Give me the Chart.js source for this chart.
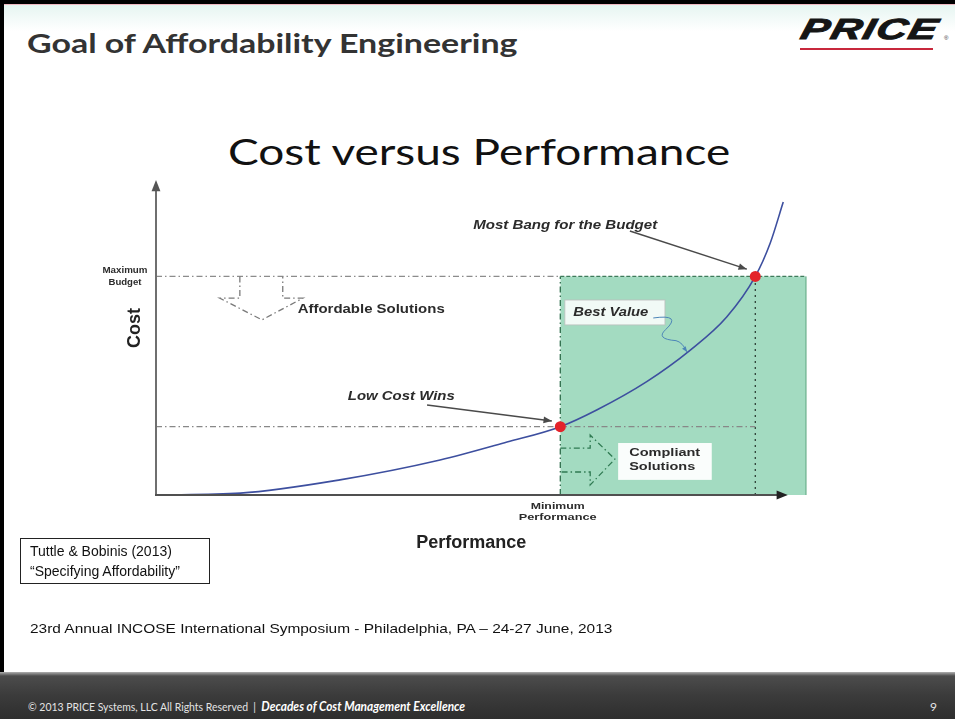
<!DOCTYPE html>
<html>
<head>
<meta charset="utf-8">
<script src="https://cdn.jsdelivr.net/npm/chart.js@4.4.1/dist/chart.umd.min.js"></script>
<style>
html, body { margin: 0; padding: 0; background: #fff; }
#slide { position: relative; width: 955px; height: 719px; overflow: hidden; background: #fff; font-family: "Liberation Sans", Arial, sans-serif; }
#chart { position: absolute; left: 0; top: 0; }
.topbar { position: absolute; left: 0; top: 0; width: 955px; height: 4px; background: #000; }
.topline { position: absolute; left: 0; top: 4px; width: 955px; height: 1px; background: #efb9c2; }
.topfade { position: absolute; left: 0; top: 5px; width: 955px; height: 26px; background: linear-gradient(#e6f5f1, #fff); }
.leftbar { position: absolute; left: 0; top: 0; width: 4px; height: 672px; background: #000; }
.fit { position: absolute; white-space: nowrap; transform-origin: left top; }
#title { left: 27px; top: 29px; font: bold 27px/27px Lato, sans-serif; color: #333; }
#chartTitle { left: 228px; top: 132px; font: 37px/37px Lato, sans-serif; color: #111; }
#logo { left: 805px; top: 15px; font: italic bold 29px/29px "Liberation Sans", Arial, sans-serif; color: #151515; letter-spacing: 1px; -webkit-text-stroke: 0.9px #151515; }
.logoLine { position: absolute; left: 800px; top: 48px; width: 133px; height: 2px; background: #c8283c; }
.reg { position: absolute; left: 944px; top: 35px; font: 6px "Liberation Sans", Arial; color: #333; }
#cite { position: absolute; left: 20px; top: 538px; width: 190px; height: 46px; border: 1px solid #222; box-sizing: border-box; padding: 3px 0 0 9px; font: 14px/19.5px "Liberation Sans", Arial, sans-serif; color: #111; }
#symposium { left: 30px; top: 622px; font: 13.5px/13.5px "Liberation Sans", Arial, sans-serif; color: #111; }
.footer { position: absolute; left: 0; top: 672px; width: 955px; height: 47px; background: linear-gradient(#b0b0b0 0px, #7c7c7c 2px, #4c4c4c 4px, #3b3b3b 50%, #2e2e2e 100%); }
#footText { left: 28px; top: 701px; font: 11px/12px Lato, sans-serif; color: #e4e4e4; }
#footText b { font-style: italic; font-size: 12.5px; color: #fff; }
#pageNo { position: absolute; left: 930px; top: 701px; font: 12px/12px Lato, sans-serif; color: #e4e4e4; }
</style>
</head>
<body>
<div id="slide">
  <div class="topfade"></div>
  <div class="topbar"></div>
  <div class="topline"></div>
  <div class="leftbar"></div>
  <div id="title" class="fit">Goal of Affordability Engineering</div>
  <div id="logo" class="fit">PRICE</div>
  <div class="logoLine"></div>
  <div class="reg">®</div>
  <div id="chartTitle" class="fit">Cost versus Performance</div>
  <canvas id="chart" width="955" height="719"></canvas>
  <div id="cite">Tuttle &amp; Bobinis (2013)<br>“Specifying Affordability”</div>
  <div id="symposium" class="fit">23rd Annual INCOSE International Symposium - Philadelphia, PA – 24-27 June, 2013</div>
  <div class="footer"></div>
  <div id="footText" class="fit">© 2013 PRICE Systems, LLC All Rights Reserved &nbsp;|&nbsp; <b>Decades of Cost Management Excellence</b></div>
  <div id="pageNo">9</div>
</div>
<script>
// 곡선 값 - 성능(x), 비용(y), 0~100 상대 단위
const perfValues = [0, 13, 28.3, 43.7, 54, 62.2, 67.8, 75.5, 82.2, 87.8, 92.2, 94.5, 96.5];
const costValues = [0, 0.6, 4.8, 11.1, 16.8, 21.7, 27, 36, 46, 56.5, 69.4, 80, 93];

// 기준선
const minPerformance = 62.2;
const maxBudget = 69.4;
const lowCostPoint = [62.2, 21.7];
const bestBangPoint = [92.2, 69.4];
const axisMax = [100, 100];
const perfArrowEnd = 97.2;

// 폭 맞추기 (HTML 텍스트)
function fitWidth(id, w, extra) {
    const el = document.getElementById(id);
    const sx = w / el.scrollWidth;
    el.style.transform = (extra || "") + " scaleX(" + sx + ")";
}
fitWidth("title", 490);
fitWidth("chartTitle", 502);
fitWidth("symposium", 582);
fitWidth("footText", 437);
fitWidth("logo", 138, "skewX(-14deg)");

const curveData = perfValues.map((p, i) => ({ x: p, y: costValues[i] }));

const dashDot = [6, 3, 1.5, 3];

// 주석 그리기 플러그인
const annotate = {
    id: "annotate",
    afterDatasetsDraw(chart) {
        const ctx = chart.ctx;
        const xs = chart.scales.x, ys = chart.scales.y;
        const px = v => xs.getPixelForValue(v);
        const py = v => ys.getPixelForValue(v);

        function text(str, x, y, font, color, align, width) {
            ctx.save();
            ctx.font = font;
            ctx.fillStyle = color;
            ctx.textBaseline = "middle";
            ctx.textAlign = align;
            const w = ctx.measureText(str).width;
            const sx = width ? width / w : 1;
            ctx.translate(px(x), py(y));
            ctx.scale(sx, 1);
            ctx.fillText(str, 0, 0);
            ctx.restore();
        }
        function head(x1, y1, x2, y2, size, color) {
            const a = Math.atan2(y2 - y1, x2 - x1);
            ctx.save();
            ctx.fillStyle = color;
            ctx.beginPath();
            ctx.moveTo(x2, y2);
            ctx.lineTo(x2 - size * Math.cos(a - 0.38), y2 - size * Math.sin(a - 0.38));
            ctx.lineTo(x2 - size * Math.cos(a + 0.38), y2 - size * Math.sin(a + 0.38));
            ctx.closePath();
            ctx.fill();
            ctx.restore();
        }
        function arrow(p1, p2, color) {
            ctx.save();
            ctx.strokeStyle = color;
            ctx.lineWidth = 1.5;
            ctx.beginPath();
            ctx.moveTo(px(p1[0]), py(p1[1]));
            ctx.lineTo(px(p2[0]), py(p2[1]));
            ctx.stroke();
            ctx.restore();
            head(px(p1[0]), py(p1[1]), px(p2[0]), py(p2[1]), 9, color);
        }
        function poly(pts, color) {
            ctx.save();
            ctx.beginPath();
            pts.forEach((p, i) => i ? ctx.lineTo(px(p[0]), py(p[1])) : ctx.moveTo(px(p[0]), py(p[1])));
            ctx.setLineDash(dashDot);
            ctx.strokeStyle = color;
            ctx.lineWidth = 1.3;
            ctx.stroke();
            ctx.restore();
        }
        function box(x1, y1, x2, y2, fill, stroke) {
            ctx.save();
            ctx.fillStyle = fill;
            ctx.fillRect(px(x1), py(y1), px(x2) - px(x1), py(y2) - py(y1));
            if (stroke) {
                ctx.strokeStyle = stroke;
                ctx.lineWidth = 1;
                ctx.strokeRect(px(x1), py(y1), px(x2) - px(x1), py(y2) - py(y1));
            }
            ctx.restore();
        }

        // 축
        ctx.save();
        ctx.lineWidth = 2;
        ctx.strokeStyle = "#6f6f6f";
        ctx.beginPath();
        ctx.moveTo(px(0), py(0));
        ctx.lineTo(px(0), py(axisMax[1]) + 6);
        ctx.stroke();
        ctx.strokeStyle = "#505050";
        ctx.beginPath();
        ctx.moveTo(px(0) - 1, py(0));
        ctx.lineTo(px(perfArrowEnd) - 6, py(0));
        ctx.stroke();
        ctx.restore();
        head(px(0), py(0), px(0), py(axisMax[1]), 12, "#555");
        head(px(0), py(0), px(perfArrowEnd), py(0), 12, "#222");

        // 블록 화살표
        poly([[12.9, maxBudget], [12.9, 62.5], [9.8, 62.5], [16.3, 55.6], [22.6, 62.5], [19.5, 62.5], [19.5, maxBudget]], "#7a7a7a");
        poly([[minPerformance, 14.9], [66.8, 14.9], [66.8, 19], [70.6, 11.4], [66.8, 3.2], [66.8, 7.3], [minPerformance, 7.3]], "#2f7a52");

        // 박스
        box(62.9, 61.9, 78.3, 54, "rgba(255,255,255,0.85)", "rgba(190,190,190,0.8)");
        box(71.1, 16.5, 85.5, 4.8, "rgba(255,255,255,0.95)");

        // 설명 화살표
        arrow([72.9, 83.8], [90.9, 71.7], "#4a4a4a");
        arrow([41.7, 28.6], [60.9, 23.5], "#4a4a4a");

        // Best Value 물결선
        ctx.save();
        ctx.strokeStyle = "#4d86b8";
        ctx.lineWidth = 1;
        ctx.beginPath();
        ctx.moveTo(px(76.5), py(56.2));
        ctx.quadraticCurveTo(px(81), py(57.5), px(78.4), py(52.5));
        ctx.quadraticCurveTo(px(76.8), py(49.5), px(80), py(49));
        ctx.quadraticCurveTo(px(81), py(48.5), px(81.7), py(45.4));
        ctx.stroke();
        ctx.restore();
        head(px(81), py(47.5), px(81.7), py(45.4), 6, "#4d86b8");

        // 텍스트
        const dark = "#2b2b2b";
        text("Maximum", -4.77, 71.4, "bold 9px 'Liberation Sans'", dark, "center", 45);
        text("Budget", -4.77, 67.3, "bold 9px 'Liberation Sans'", dark, "center", 33);
        text("Affordable Solutions", 21.8, 58.7, "bold 12px 'Liberation Sans'", dark, "left", 147);
        text("Most Bang for the Budget", 48.8, 85.4, "italic bold 12px 'Liberation Sans'", dark, "left", 184);
        text("Low Cost Wins", 29.5, 31.1, "italic bold 12px 'Liberation Sans'", dark, "left", 107);
        text("Best Value", 64.2, 57.8, "italic bold 12px 'Liberation Sans'", dark, "left", 75);
        text("Compliant", 72.8, 13.3, "bold 11px 'Liberation Sans'", dark, "left", 71);
        text("Solutions", 72.8, 8.9, "bold 11px 'Liberation Sans'", dark, "left", 66);
        text("Minimum", 61.8, -3.5, "bold 9px 'Liberation Sans'", dark, "center", 54);
        text("Performance", 61.8, -7, "bold 9px 'Liberation Sans'", dark, "center", 78);
        text("Performance", 48.5, -15.2, "bold 18px 'Liberation Sans'", "#222", "center");

        // Cost (세로)
        ctx.save();
        ctx.font = "bold 18px 'Liberation Sans'";
        ctx.fillStyle = "#222";
        ctx.textAlign = "center";
        ctx.textBaseline = "middle";
        ctx.translate(px(-3.2), py(53));
        ctx.rotate(-Math.PI / 2);
        ctx.fillText("Cost", 0, 0);
        ctx.restore();
    }
};

new Chart(document.getElementById("chart"), {
    type: "line",
    data: {
        datasets: [
            {
                label: "key points",
                data: [{ x: lowCostPoint[0], y: lowCostPoint[1] }, { x: bestBangPoint[0], y: bestBangPoint[1] }],
                showLine: false,
                pointRadius: 5.5,
                pointBackgroundColor: "#e3232b",
                pointBorderWidth: 0,
                order: 0,
            },
            {
                label: "cost curve",
                data: curveData,
                borderColor: "#3d4f9f",
                borderWidth: 1.6,
                pointRadius: 0,
                cubicInterpolationMode: "monotone",
                order: 1,
            },
            {
                label: "max budget",
                data: [{ x: 0, y: maxBudget }, { x: minPerformance, y: maxBudget }],
                borderColor: "#8c8c8c", borderWidth: 1.3, borderDash: dashDot, pointRadius: 0, order: 2,
            },
            {
                label: "region top",
                data: [{ x: minPerformance, y: maxBudget }, { x: axisMax[0], y: maxBudget }],
                borderColor: "#3f7b5b", borderWidth: 1.3, borderDash: [4, 2], pointRadius: 0, order: 2,
            },
            {
                label: "low cost",
                data: [{ x: 0, y: lowCostPoint[1] }, { x: bestBangPoint[0], y: lowCostPoint[1] }],
                borderColor: "#888", borderWidth: 1.3, borderDash: dashDot, pointRadius: 0, order: 2,
            },
            {
                label: "min performance",
                data: [{ x: minPerformance, y: 0 }, { x: minPerformance, y: maxBudget }],
                borderColor: "#2f6e4c", borderWidth: 1.3, borderDash: dashDot, pointRadius: 0, order: 2,
            },
            {
                label: "bang vertical",
                data: [{ x: bestBangPoint[0], y: 0 }, { x: bestBangPoint[0], y: maxBudget }],
                borderColor: "#2e3e36", borderWidth: 1.3, borderDash: [2, 4], pointRadius: 0, order: 2,
            },
            {
                label: "region right",
                data: [{ x: axisMax[0], y: 0 }, { x: axisMax[0], y: maxBudget }],
                borderColor: "#5aa57f", borderWidth: 1, pointRadius: 0, order: 2,
            },
            {
                label: "compliant region",
                data: [{ x: minPerformance, y: maxBudget }, { x: axisMax[0], y: maxBudget }],
                borderWidth: 0,
                pointRadius: 0,
                fill: "origin",
                backgroundColor: "#a3dbc1",
                order: 9,
            },
        ],
    },
    options: {
        responsive: false,
        animation: false,
        events: [],
        clip: false,
        layout: { padding: { left: 156, right: 149, top: 180, bottom: 224 } },
        scales: {
            x: { type: "linear", min: 0, max: axisMax[0], display: false },
            y: { min: 0, max: axisMax[1], display: false },
        },
        plugins: { legend: { display: false }, tooltip: { enabled: false } },
    },
    plugins: [annotate],
});
</script>
</body>
</html>
